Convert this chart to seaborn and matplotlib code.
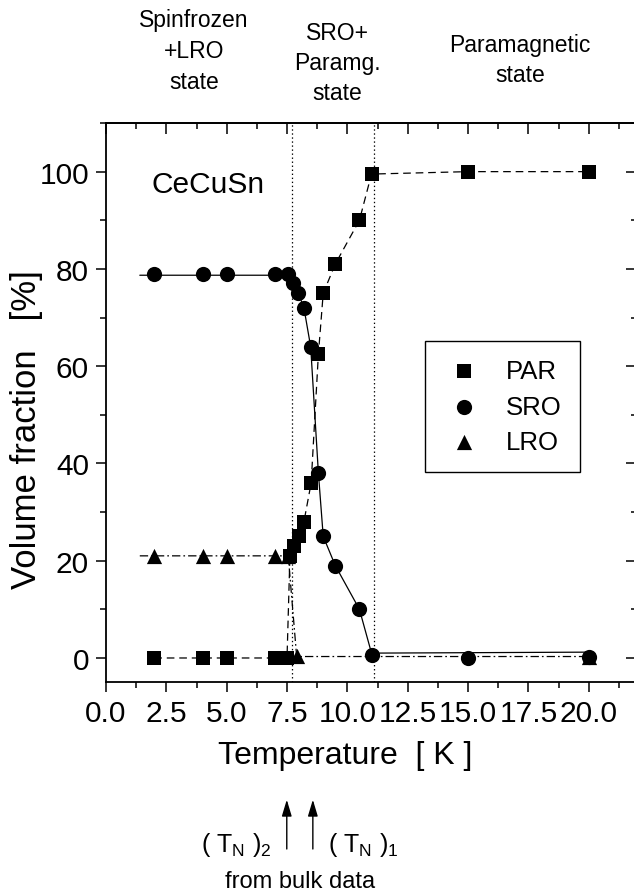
import numpy as np
import pandas as pd
import matplotlib
matplotlib.use("Agg")
import matplotlib.pyplot as plt
import seaborn as sns
from matplotlib.ticker import MultipleLocator, FixedLocator, FixedFormatter

# ---------------- data ----------------
par_T = [2, 4, 5, 7, 7.3, 7.5, 7.62, 7.78, 8.0, 8.2, 8.5, 8.8, 9.0, 9.5, 10.5, 11.0, 15, 20]
par_V = [0, 0, 0, 0, 0, 0, 21, 23, 25, 28, 36, 62.5, 75, 81, 90, 99.5, 100, 100]

sro_T = [2, 4, 5, 7, 7.55, 7.76, 7.97, 8.2, 8.48, 8.8, 9.0, 9.5, 10.5, 11.0, 15, 20]
sro_V = [79, 79, 79, 79, 79, 77, 75, 72, 64, 38, 25, 19, 10, 0.7, 0, 0.3]

lro_T = [2, 4, 5, 7, 7.55, 7.9, 20]
lro_V = [21, 21, 21, 21, 21, 0.5, 0.3]

# guide curves drawn in the figure for SRO and LRO
sro_guide_T = [1.4, 7.3, 7.55, 7.76, 7.97, 8.2, 8.48, 8.8, 9.0, 9.5, 10.5, 11.0, 20.0]
sro_guide_V = [78.7, 78.7, 78.5, 77, 75, 72, 64, 38, 25, 19, 10, 1.0, 1.2]
lro_guide_T = [1.4, 7.55, 7.9, 20.0]
lro_guide_V = [21, 21, 0.3, 0.3]

transition_T = [7.69, 11.1]      # dotted vertical lines
bulk_TN = [7.49, 8.57]           # arrows (T_N)_2, (T_N)_1 from bulk data

series_labels = ["PAR", "SRO", "LRO"]
x_ticks = [0, 2.5, 5, 7.5, 10, 12.5, 15, 17.5, 20]
x_tick_labels = ["0.0", "2.5", "5.0", "7.5", "10.0", "12.5", "15.0", "17.5", "20.0"]
y_ticks = [0, 20, 40, 60, 80, 100]
y_tick_labels = ["0", "20", "40", "60", "80", "100"]

# ---------------- style ----------------
sns.set_style("ticks")
plt.rcParams["font.family"] = ["Liberation Sans", "DejaVu Sans"]
plt.rcParams["mathtext.fontset"] = "custom"
plt.rcParams["mathtext.rm"] = "Liberation Sans"
plt.rcParams["mathtext.it"] = "Liberation Sans:italic"
plt.rcParams["lines.scale_dashes"] = False
for k in ["text.color", "axes.labelcolor", "xtick.color", "ytick.color", "axes.edgecolor"]:
    plt.rcParams[k] = "black"

W, H = 634, 895
fig = plt.figure(figsize=(W / 100, H / 100), dpi=100)
fig.patch.set_facecolor("white")
L, R, T, B = 106, 637, 124, 683.3
ax = fig.add_axes([L / W, 1 - B / H, (R - L) / W, (B - T) / H])
ax.set_facecolor("white")

# lines
sns.lineplot(x=par_T, y=par_V, estimator=None, sort=False, color="k", lw=0.9, ax=ax)
ax.lines[-1].set_dashes([5.5, 3.5])
sns.lineplot(x=sro_guide_T, y=sro_guide_V, estimator=None, sort=False, color="k", lw=0.9, ax=ax)
sns.lineplot(x=lro_guide_T, y=lro_guide_V, estimator=None, sort=False, color="k", lw=0.9, ax=ax)
ax.lines[-1].set_dashes([6, 2.2, 1.2, 2.2])

for t in transition_T:
    ax.axvline(t, color="k", lw=0.9, dashes=[1.0, 1.9], zorder=1)

# markers
sns.scatterplot(x=par_T, y=par_V, marker="s", s=100, color="k", linewidth=0,
                label=series_labels[0], ax=ax, zorder=5)
sns.scatterplot(x=sro_T, y=sro_V, marker="o", s=120, color="k", linewidth=0,
                label=series_labels[1], ax=ax, zorder=5)
sns.scatterplot(x=lro_T, y=lro_V, marker="^", s=120, color="k", linewidth=0,
                label=series_labels[2], ax=ax, zorder=5)

ax.set_xlim(0, 22)
ax.set_ylim(-5, 110)

ax.xaxis.set_major_locator(FixedLocator(x_ticks))
ax.xaxis.set_major_formatter(FixedFormatter(x_tick_labels))
ax.xaxis.set_minor_locator(MultipleLocator(1.25))
ax.yaxis.set_major_locator(FixedLocator(y_ticks))
ax.yaxis.set_major_formatter(FixedFormatter(y_tick_labels))
ax.yaxis.set_minor_locator(MultipleLocator(10))

for sp in ax.spines.values():
    sp.set_linewidth(1.3)
    sp.set_color("k")

ax.tick_params(which="both", direction="out", width=1.1, colors="k",
               top=False, right=False, labelsize=21.5)
ax.tick_params(which="major", length=7.2, pad=5)
ax.tick_params(which="minor", length=4.2)

# top and right inward ticks
secx = ax.secondary_xaxis("top")
secx.xaxis.set_major_locator(FixedLocator(x_ticks + [22.5]))
secx.xaxis.set_minor_locator(MultipleLocator(1.25))
secx.tick_params(which="both", direction="in", width=1.1, labeltop=False, colors="k")
secx.tick_params(which="major", length=8)
secx.tick_params(which="minor", length=4.3)
secx.spines["top"].set_linewidth(1.3)

secy = ax.secondary_yaxis("right")
secy.yaxis.set_major_locator(FixedLocator(y_ticks))
secy.yaxis.set_minor_locator(MultipleLocator(10))
secy.tick_params(which="both", direction="in", width=1.1, labelright=False, colors="k")
secy.tick_params(which="major", length=8)
secy.tick_params(which="minor", length=4.3)

ax.set_xlabel("Temperature  [ K ]", fontsize=23)
ax.xaxis.set_label_coords(0.451, -0.103)
ax.set_ylabel("Volume fraction   [%]", fontsize=25)
ax.yaxis.set_label_coords(-0.118, 0.453)

ax.text(1.89, 95.9, "CeCuSn", fontsize=21.5, va="baseline", ha="left")

leg = ax.legend(loc="upper left", bbox_to_anchor=((425.3 - L) / (R - L), (B - 342) / (B - T)),
                fontsize=18.5, frameon=True, fancybox=False, framealpha=1,
                edgecolor="k", scatterpoints=1, borderpad=0.7, handlelength=1.6,
                handletextpad=0.85, labelspacing=0.45, borderaxespad=0)
leg.get_frame().set_linewidth(1.0)

# top annotations (figure pixel positions)
def ftxt(x, y, s, **kw):
    fig.text(x / W, 1 - y / H, s, **kw)

ftxt(194, 9, "Spinfrozen\n+LRO\nstate", ha="center", va="top", fontsize=16.5,
     linespacing=1.45, multialignment="center")
ftxt(337, 22, "SRO+\nParamg.\nstate", ha="center", va="top", fontsize=16.5,
     linespacing=1.4, multialignment="center")
ftxt(520, 34, "Paramagnetic\nstate", ha="center", va="top", fontsize=16.5,
     linespacing=1.4, multialignment="center")

# bottom arrows and labels
for t in bulk_TN:
    ax.annotate("", xy=(t, H - 800.7), xycoords=("data", "figure pixels"),
                xytext=(t, H - 850), textcoords=("data", "figure pixels"),
                arrowprops=dict(arrowstyle="-|>,head_length=1.0,head_width=0.3",
                                mutation_scale=10, color="k", lw=1.0,
                                shrinkA=0, shrinkB=0),
                annotation_clip=False)

ftxt(272, 851.7, r"( T$_\mathrm{N}$ )$_\mathrm{2}$", ha="right", va="baseline", fontsize=18)
ftxt(328, 851.7, r"( T$_\mathrm{N}$ )$_\mathrm{1}$", ha="left", va="baseline", fontsize=18)
ftxt(300, 888, "from bulk data", ha="center", va="baseline", fontsize=17)

fig.savefig("out.png", dpi=100, facecolor="white")
